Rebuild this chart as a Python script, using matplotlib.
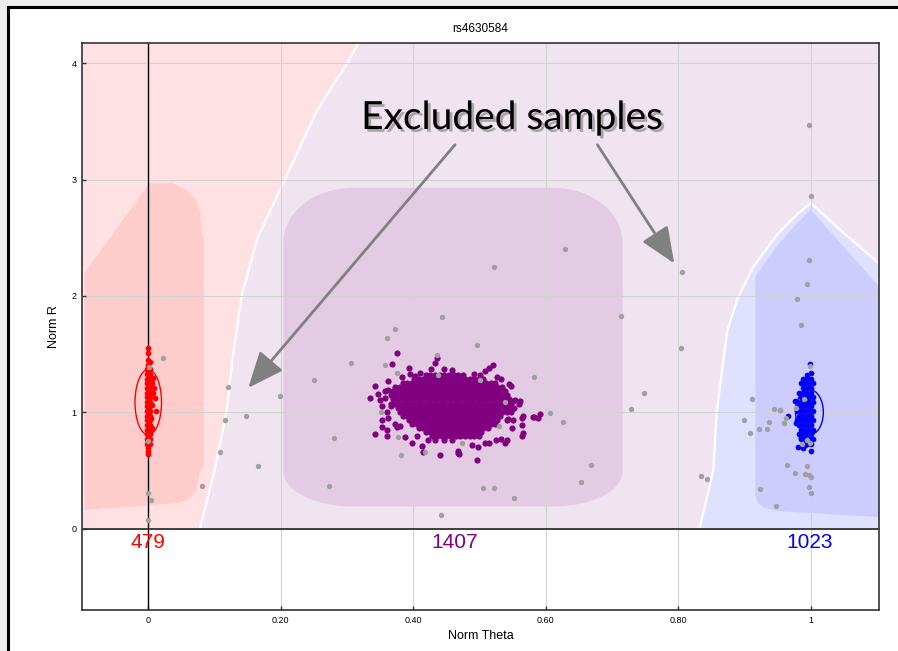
import numpy as np
import matplotlib
matplotlib.use("Agg")
import matplotlib.pyplot as plt
from matplotlib.patches import Polygon, Ellipse, Rectangle, FancyArrowPatch
import matplotlib.patheffects as pe

# ---- data ----
snp_name = "rs4630584"
genotype_counts = [479, 1407, 1023]
genotype_colors = ["#ff0000", "#800080", "#0000ff"]
count_theta = [0.0, 0.463, 0.998]
count_r = -0.12

x_ticks = [0, 0.2, 0.4, 0.6, 0.8, 1.0]
x_tick_labels = ["0", "0.20", "0.40", "0.60", "0.80", "1"]
y_ticks = [0, 1, 2, 3, 4]
y_tick_labels = ["0", "1", "2", "3", "4"]

# call-region boundaries (theta, R)
pink_edge_theta = [0.078, 0.100, 0.118, 0.128, 0.141, 0.165, 0.206, 0.255, 0.300, 0.317]
pink_edge_r = [0.0, 0.5, 1.0, 1.5, 2.0, 2.5, 3.0, 3.6, 4.0, 4.175]

blue_edge_theta = [0.832, 0.853, 0.858, 0.874, 0.889, 0.913, 0.951, 0.979, 1.0, 1.05, 1.103]
blue_edge_r = [0.0, 0.5, 1.0, 1.7, 1.97, 2.25, 2.54, 2.70, 2.80, 2.54, 2.28]

aa_core_theta = [-0.096, -0.096, -0.003, 0.0, 0.038, 0.058, 0.073, 0.0785, 0.081, 0.084,
                 0.084, 0.078, 0.073, 0.063, 0.048, -0.096]
aa_core_r = [0.16, 2.20, 2.93, 2.97, 2.97, 2.91, 2.82, 2.71, 2.54, 2.50,
             0.535, 0.478, 0.335, 0.263, 0.22, 0.16]

bb_core_theta = [0.9165, 0.9165, 0.945, 0.975, 1.0, 1.103, 1.103, 0.95, 0.93, 0.92]
bb_core_r = [0.28, 2.166, 2.40, 2.60, 2.74, 2.08, 0.10, 0.15, 0.18, 0.22]

ab_box = [0.204, 0.716, 0.19, 2.93]  # theta0, theta1, r0, r1

# AA (red) samples
red_theta = [0.0, 0.0, 0.0, 0.003,
             -0.002, 0.003, -0.002, 0.003, -0.002, 0.003, -0.002, 0.003, -0.002, 0.003,
             -0.002, 0.003, -0.002, 0.003, -0.002, 0.003, -0.002, 0.003, -0.002, 0.003,
             -0.002, 0.003, -0.002, 0.003, -0.002, 0.003, -0.002, 0.003, -0.002, 0.003,
             -0.002, 0.003, -0.002, 0.003,
             0.0, 0.0, 0.0, 0.0,
             0.0076, 0.0091, 0.0101, 0.0111, 0.0061, 0.0051, 0.004, 0.005, 0.007]
red_r = [1.556, 1.508, 1.45, 1.436,
         1.37, 1.37, 1.33, 1.33, 1.29, 1.29, 1.25, 1.25, 1.21, 1.21,
         1.17, 1.17, 1.13, 1.13, 1.09, 1.09, 1.05, 1.05, 1.01, 1.01,
         0.97, 0.97, 0.93, 0.93, 0.89, 0.89, 0.85, 0.85, 0.81, 0.81,
         0.77, 0.77, 0.73, 0.73,
         1.41, 0.69, 0.665, 0.64,
         1.293, 1.207, 1.121, 1.012, 1.25, 1.065, 0.95, 0.865, 1.164]

# AB (purple) samples: dense core rows, then the loose ones around it
ab_core_rows = {
    1.320: [0.419, 0.426, 0.433, 0.440, 0.447, 0.454, 0.461, 0.468, 0.475],
    1.285: [0.401, 0.408, 0.415, 0.422, 0.429, 0.436, 0.443, 0.450, 0.457, 0.464, 0.471,
            0.478, 0.485, 0.492, 0.499, 0.506],
    1.250: [0.384, 0.391, 0.398, 0.405, 0.412, 0.419, 0.426, 0.433, 0.440, 0.447, 0.454,
            0.461, 0.468, 0.475, 0.482, 0.489, 0.496, 0.503, 0.510, 0.517, 0.524],
    1.215: [0.373, 0.380, 0.387, 0.394, 0.401, 0.408, 0.415, 0.422, 0.429, 0.436, 0.443,
            0.450, 0.457, 0.464, 0.471, 0.478, 0.485, 0.492, 0.499, 0.506, 0.513, 0.520,
            0.527, 0.534],
    1.180: [0.370, 0.377, 0.384, 0.391, 0.398, 0.405, 0.412, 0.419, 0.426, 0.433, 0.440,
            0.447, 0.454, 0.461, 0.468, 0.475, 0.482, 0.489, 0.496, 0.503, 0.510, 0.517,
            0.524, 0.531, 0.538],
    1.145: [0.366, 0.373, 0.380, 0.387, 0.394, 0.401, 0.408, 0.415, 0.422, 0.429, 0.436,
            0.443, 0.450, 0.457, 0.464, 0.471, 0.478, 0.485, 0.492, 0.499, 0.506, 0.513,
            0.520, 0.527, 0.534, 0.541],
    1.110: [0.370, 0.377, 0.384, 0.391, 0.398, 0.405, 0.412, 0.419, 0.426, 0.433, 0.440,
            0.447, 0.454, 0.461, 0.468, 0.475, 0.482, 0.489, 0.496, 0.503, 0.510, 0.517,
            0.524, 0.531, 0.538, 0.545],
    1.075: [0.366, 0.373, 0.380, 0.387, 0.394, 0.401, 0.408, 0.415, 0.422, 0.429, 0.436,
            0.443, 0.450, 0.457, 0.464, 0.471, 0.478, 0.485, 0.492, 0.499, 0.506, 0.513,
            0.520, 0.527, 0.534, 0.541, 0.548],
    1.040: [0.377, 0.384, 0.391, 0.398, 0.405, 0.412, 0.419, 0.426, 0.433, 0.440, 0.447,
            0.454, 0.461, 0.468, 0.475, 0.482, 0.489, 0.496, 0.503, 0.510, 0.517, 0.524,
            0.531, 0.538, 0.545],
    1.005: [0.380, 0.387, 0.394, 0.401, 0.408, 0.415, 0.422, 0.429, 0.436, 0.443, 0.450,
            0.457, 0.464, 0.471, 0.478, 0.485, 0.492, 0.499, 0.506, 0.513, 0.520, 0.527,
            0.534, 0.541],
    0.970: [0.384, 0.391, 0.398, 0.405, 0.412, 0.419, 0.426, 0.433, 0.440, 0.447, 0.454,
            0.461, 0.468, 0.475, 0.482, 0.489, 0.496, 0.503, 0.510, 0.517, 0.524, 0.531],
    0.935: [0.394, 0.401, 0.408, 0.415, 0.422, 0.429, 0.436, 0.443, 0.450, 0.457, 0.464,
            0.471, 0.478, 0.485, 0.492, 0.499, 0.506, 0.513, 0.520, 0.527],
    0.900: [0.398, 0.405, 0.412, 0.419, 0.426, 0.433, 0.440, 0.447, 0.454, 0.461, 0.468,
            0.475, 0.482, 0.489, 0.496, 0.503, 0.510, 0.517, 0.524],
    0.865: [0.408, 0.415, 0.422, 0.429, 0.436, 0.443, 0.450, 0.457, 0.464, 0.471, 0.478,
            0.485, 0.492, 0.499, 0.506, 0.513],
    0.830: [0.419, 0.426, 0.433, 0.440, 0.447, 0.454, 0.461, 0.468, 0.475, 0.482, 0.489,
            0.496, 0.503],
    0.795: [0.429, 0.436, 0.443, 0.450, 0.457, 0.464, 0.471, 0.478, 0.485, 0.492, 0.499],
}
ab_loose = [(0.375, 1.513), (0.368, 1.416), (0.393, 1.379), (0.436, 1.465), (0.433, 1.427),
            (0.427, 1.37), (0.410, 1.336), (0.446, 1.37), (0.458, 1.365), (0.509, 1.359),
            (0.514, 1.379), (0.520, 1.404), (0.527, 1.30), (0.533, 1.29), (0.545, 1.24),
            (0.548, 1.23), (0.554, 1.107), (0.561, 1.10), (0.564, 0.950), (0.551, 0.935),
            (0.541, 0.93), (0.582, 0.959), (0.589, 0.947), (0.591, 0.987), (0.564, 0.893),
            (0.549, 0.864), (0.564, 0.798), (0.541, 0.764), (0.539, 0.735), (0.525, 0.764),
            (0.515, 0.735), (0.496, 0.586), (0.468, 0.664), (0.469, 0.644), (0.441, 0.635),
            (0.413, 0.707), (0.415, 0.656), (0.423, 0.764), (0.433, 0.764), (0.446, 0.764),
            (0.458, 0.764), (0.388, 0.79), (0.375, 0.873), (0.36, 0.845), (0.353, 0.873),
            (0.353, 0.93), (0.342, 0.815), (0.36, 0.792), (0.342, 1.222), (0.347, 1.159),
            (0.357, 1.179), (0.362, 1.193), (0.35, 1.107), (0.335, 1.122), (0.353, 1.05),
            (0.367, 1.05), (0.360, 1.0), (0.362, 0.95), (0.58, 0.96), (0.566, 0.972),
            (0.566, 0.82), (0.509, 0.74), (0.532, 0.77), (0.543, 0.94), (0.537, 1.17),
            (0.551, 1.10), (0.559, 1.07), (0.468, 0.65), (0.398, 0.74), (0.405, 0.80),
            (0.488, 0.72), (0.497, 0.70), (0.395, 1.33), (0.403, 1.31), (0.491, 1.33),
            (0.500, 1.32), (0.372, 0.90), (0.380, 0.88), (0.548, 1.00), (0.552, 1.04),
            (0.357, 1.12), (0.362, 1.27), (0.383, 1.30)]

# BB (blue) samples
bb_core_rows = {
    1.29: [0.988, 0.994, 1.000],
    1.25: [0.985, 0.991, 0.997, 1.003],
    1.21: [0.988, 0.994, 1.000],
    1.17: [0.982, 0.988, 0.994, 1.000],
    1.13: [0.985, 0.991, 0.997, 1.003],
    1.09: [0.979, 0.985, 0.991, 0.997, 1.003],
    1.05: [0.982, 0.988, 0.994, 1.000],
    1.01: [0.979, 0.985, 0.991, 0.997, 1.003],
    0.97: [0.982, 0.988, 0.994, 1.000],
    0.93: [0.979, 0.985, 0.991, 0.997, 1.003],
    0.89: [0.982, 0.988, 0.994, 1.000],
    0.85: [0.985, 0.991, 0.997, 1.003],
    0.81: [0.982, 0.988, 0.994, 1.000],
    0.77: [0.985, 0.991, 0.997, 1.003],
    0.73: [0.988, 0.994, 1.000],
}
bb_loose = [(0.9995, 1.416), (0.994, 1.322), (1.001, 1.341), (0.976, 1.094), (0.965, 0.970),
            (0.977, 0.907), (1.001, 0.664), (0.985, 0.78), (0.992, 0.72), (0.98, 0.70),
            (0.988, 0.69)]

# excluded (no-call) samples
gray_pts = [(0.998, 3.47), (1.001, 2.86), (0.998, 2.31), (0.994, 2.10), (0.979, 1.97),
            (0.986, 1.75), (0.805, 2.21), (0.629, 2.40), (0.522, 2.25), (0.714, 1.83),
            (0.444, 1.82), (0.373, 1.72), (0.361, 1.64), (0.022, 1.47), (0.306, 1.42),
            (0.358, 1.41), (0.376, 1.34), (0.436, 1.49), (0.437, 1.32), (0.250, 1.28),
            (0.120, 1.22), (0.199, 1.14), (0.116, 0.93), (0.147, 0.97), (0.280, 0.78),
            (0.108, 0.66), (0.165, 0.54), (0.081, 0.37), (0.273, 0.37), (0.351, 1.00),
            (0.377, 0.79), (0.382, 0.63), (0.417, 0.655), (0.442, 0.12), (0.001, 1.39),
            (0.0, 0.755), (0.0, 0.31), (0.004, 0.246), (0.0, 0.07), (0.496, 1.58),
            (0.583, 1.30), (0.607, 0.99), (0.626, 0.92), (0.729, 1.03), (0.749, 1.17),
            (0.804, 1.55), (0.669, 0.55), (0.653, 0.40), (0.505, 0.35), (0.522, 0.35),
            (0.552, 0.26), (0.473, 0.74), (0.529, 0.88), (0.500, 1.28), (0.539, 1.09),
            (0.834, 0.45), (0.844, 0.43), (0.911, 1.11), (0.944, 1.03), (0.953, 1.02),
            (0.899, 0.93), (0.908, 0.82), (0.922, 0.86), (0.934, 0.86), (0.937, 0.92),
            (0.960, 0.91), (0.964, 0.55), (0.976, 0.48), (0.994, 0.54), (0.992, 0.47),
            (0.998, 0.46), (1.0, 0.44), (0.998, 0.36), (1.001, 0.31), (0.924, 0.34),
            (0.947, 0.19), (0.954, 1.016), (0.962, 0.95), (0.959, 0.912), (0.990, 1.113),
            (0.977, 1.036), (0.987, 0.73), (0.995, 0.764), (0.999, 0.735), (0.999, 1.40)]

# cluster ellipses: centre theta, centre R, width, height
ellipses = [(0.0, 1.086, 0.040, 0.56, "#ff0000"), (0.998, 1.0, 0.042, 0.39, "#0000ff")]


def rounded_box(x0, x1, y0, y1, rx, ry_top, ry_bot, n=24):
    a = np.linspace(0, np.pi / 2, n)
    pts = []
    pts += list(zip(x1 - rx + rx * np.cos(a), y1 - ry_top + ry_top * np.sin(a)))
    pts += list(zip(x0 + rx - rx * np.sin(a), y1 - ry_top + ry_top * np.cos(a)))
    pts += list(zip(x0 + rx - rx * np.cos(a), y0 + ry_bot - ry_bot * np.sin(a)))
    pts += list(zip(x1 - rx + rx * np.sin(a), y0 + ry_bot - ry_bot * np.cos(a)))
    return pts


plt.rcParams["font.family"] = ["Liberation Sans", "DejaVu Sans"]

fig = plt.figure(figsize=(8.98, 6.51), dpi=100, facecolor="#eeeeee")
# white page with black frame (cropped at right/bottom)
page = Rectangle((8 / 898, -0.1), 1.2, 1.1 - 7 / 651, transform=fig.transFigure,
                 facecolor="white", edgecolor="black", lw=2.2, zorder=-10)
fig.patches.append(page)

ax = fig.add_axes([82 / 898, 1 - 610 / 651, (879 - 82) / 898, (610 - 43) / 651])
ax.set_zorder(5)
ax.set_xlim(-0.10, 1.103)
ax.set_ylim(-0.70, 4.175)
ax.set_facecolor("white")

xl0, xl1 = -0.12, 1.12
top = 4.2
# background call regions
ax.add_patch(Rectangle((xl0, 0), xl1 - xl0, top, facecolor="#f0e4f0", edgecolor="none", zorder=0))
pink_poly = [(xl0, 0), (xl0, top)] + list(zip(pink_edge_theta[::-1], pink_edge_r[::-1]))
ax.add_patch(Polygon(pink_poly, closed=True, facecolor="#ffe1e4", edgecolor="none", zorder=0.1))
blue_poly = list(zip(blue_edge_theta, blue_edge_r)) + [(xl1, blue_edge_r[-1]), (xl1, 0)]
ax.add_patch(Polygon(blue_poly, closed=True, facecolor="#e0e0ff", edgecolor="none", zorder=0.1))
ax.plot(pink_edge_theta, pink_edge_r, color="white", lw=1.6, zorder=0.3)
ax.plot(blue_edge_theta, blue_edge_r, color="white", lw=1.6, zorder=0.3)

# cluster cores
ax.add_patch(Polygon(list(zip(aa_core_theta, aa_core_r)), closed=True,
                     facecolor="#ffcccc", edgecolor="none", zorder=0.4))
ax.add_patch(Polygon(rounded_box(ab_box[0], ab_box[1], ab_box[2], ab_box[3], 0.105, 0.47, 0.30),
                     closed=True, facecolor="#e3cce3", edgecolor="none", zorder=0.4))
ax.add_patch(Polygon(list(zip(bb_core_theta, bb_core_r)), closed=True,
                     facecolor="#ccccff", edgecolor="none", zorder=0.4))

# grid and zero lines
ax.set_xticks(x_ticks)
ax.set_xticklabels(x_tick_labels)
ax.set_yticks(y_ticks)
ax.set_yticklabels(y_tick_labels)
ax.grid(True, color="#d2d2d2", lw=0.8)
ax.set_axisbelow(False)
ax.axvline(0, color="black", lw=1.0, zorder=2.7)
ax.axhline(0, color="#333333", lw=1.3, zorder=2.7)

ms = 17
ax.scatter(red_theta, red_r, s=ms, color=genotype_colors[0], linewidths=0, zorder=3)
ab_t = [t for r, ts in ab_core_rows.items() for t in ts] + [p[0] for p in ab_loose]
ab_r = [r for r, ts in ab_core_rows.items() for t in ts] + [p[1] for p in ab_loose]
ax.scatter(ab_t, ab_r, s=20, color=genotype_colors[1], linewidths=0, zorder=3)
bb_t = [t for r, ts in bb_core_rows.items() for t in ts] + [p[0] for p in bb_loose]
bb_r = [r for r, ts in bb_core_rows.items() for t in ts] + [p[1] for p in bb_loose]
ax.scatter(bb_t, bb_r, s=ms, color=genotype_colors[2], linewidths=0, zorder=3)

for cx, cy, w, h, c in ellipses:
    ax.add_patch(Ellipse((cx, cy), w, h, fill=False, edgecolor=c, lw=1.0, zorder=3.5))

ax.scatter([p[0] for p in gray_pts], [p[1] for p in gray_pts], s=15, color="#a0a0a0",
           linewidths=0, zorder=4)

for t, n, c in zip(count_theta, genotype_counts, genotype_colors):
    ax.text(t, count_r, str(n), color=c, fontsize=15, ha="center", va="center", zorder=5)

# annotation
ax.text(0.549, 3.53, "Excluded samples", family=["Lato", "DejaVu Sans"], fontsize=28,
        ha="center", va="center", color="black", zorder=6,
        path_effects=[pe.withSimplePatchShadow(offset=(2, -2), shadow_rgbFace="#555555", alpha=0.45)])
for start, end in [((0.463, 3.30), (0.151, 1.21)), ((0.678, 3.30), (0.794, 2.28))]:
    ax.add_patch(FancyArrowPatch(start, end, arrowstyle="-|>,head_length=1.3,head_width=0.55",
                                 mutation_scale=17, color="#808080", lw=2.0,
                                 shrinkA=0, shrinkB=0, zorder=6))

for s in ax.spines.values():
    s.set_color("#333333")
    s.set_linewidth(1.2)
    s.set_zorder(7)
ax.tick_params(direction="in", length=3, width=1, labelsize=6.5, pad=4, color="#333333")
ax.set_xlabel("Norm Theta", fontsize=9, labelpad=4)
ax.set_ylabel("Norm R", fontsize=9, labelpad=8)
ax.set_title(snp_name, fontsize=8.5, pad=8)

fig.savefig("out.png", dpi=100, facecolor=fig.get_facecolor())
